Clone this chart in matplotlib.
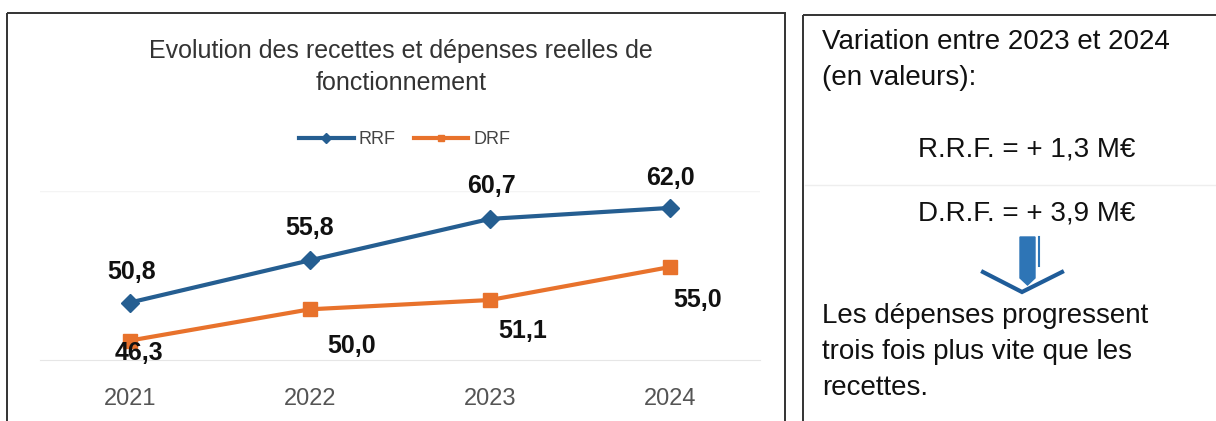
import matplotlib
matplotlib.use("Agg")
import matplotlib.pyplot as plt
from matplotlib.patches import Polygon, Rectangle
from matplotlib.lines import Line2D

plt.rcParams['font.family'] = ['Liberation Sans', 'DejaVu Sans']

years = ["2021", "2022", "2023", "2024"]
rrf = [50.8, 55.8, 60.7, 62.0]
drf = [46.3, 50.0, 51.1, 55.0]
title = "Evolution des recettes et dépenses reelles de\nfonctionnement"
side_lines = ["Variation entre 2023 et 2024", "(en valeurs):"]
rrf_text = "R.R.F. = + 1,3 M€"
drf_text = "D.R.F. = + 3,9 M€"
conclusion = ["Les dépenses progressent", "trois fois plus vite que les", "recettes."]

BLUE = "#255E91"
ORANGE = "#E8722C"

W, H = 1216, 421
fig = plt.figure(figsize=(W / 100, H / 100), dpi=100)

# overlay in pixel coordinates for frames / side panel
ov = fig.add_axes([0, 0, 1, 1])
ov.set_xlim(0, W)
ov.set_ylim(H, 0)
ov.axis("off")
ov.add_patch(Rectangle((7, 13), 778, 420, fill=False, ec="#333333", lw=1.4))
ov.add_patch(Rectangle((803, 15), 430, 420, fill=False, ec="#333333", lw=1.4))

# chart axes
ax = fig.add_axes([40 / W, (H - 360) / H, 720 / W, 169 / H])
x = list(range(len(years)))
ax.plot(x, rrf, color=BLUE, lw=3, marker="D", ms=9, label="RRF", zorder=3)
ax.plot(x, drf, color=ORANGE, lw=3, marker="s", ms=10, label="DRF", zorder=3)
ax.set_xlim(-0.5, 3.5)
ax.set_ylim(44, 64)
ax.set_xticks(x)
ax.set_xticklabels(years, fontsize=17, color="#555555")
ax.tick_params(axis="x", length=0, pad=20)
ax.set_yticks([])
for s in ["top", "left", "right"]:
    ax.spines[s].set_visible(False)
ax.spines["bottom"].set_color("#E6E6E6")
ax.axhline(64, color="#F4F4F4", lw=1)
ax.patch.set_alpha(0)

rrf_off = [(2, 31), (0, 32), (2, 33), (0, 30)]
drf_off = [(9, -12), (42, -37), (33, -31), (28, -33)]
for i, v in enumerate(rrf):
    ax.annotate(f"{v:.1f}".replace(".", ","), (i, v), xytext=rrf_off[i],
                textcoords="offset pixels", ha="center", va="center",
                fontsize=18, fontweight="bold", color="#111111")
for i, v in enumerate(drf):
    ax.annotate(f"{v:.1f}".replace(".", ","), (i, v), xytext=drf_off[i],
                textcoords="offset pixels", ha="center", va="center",
                fontsize=18, fontweight="bold", color="#111111")

# title and legend
ov.text(401, 67, title, ha="center", va="center", fontsize=18,
        color="#333333", linespacing=1.4)
leg = fig.legend(handles=[
    Line2D([], [], color=BLUE, lw=3, marker="D", ms=5),
    Line2D([], [], color=ORANGE, lw=3, marker="s", ms=5)],
    labels=["RRF", "DRF"], loc="center", bbox_to_anchor=(405 / W, 1 - 140 / H),
    ncol=2, frameon=False, fontsize=13, handlelength=3, columnspacing=1.0,
    handletextpad=0.3, labelcolor="#444444")

# side panel
FS = 20
ov.text(822, 42, side_lines[0], ha="left", va="center", fontsize=FS, color="#111111")
ov.text(822, 78, side_lines[1], ha="left", va="center", fontsize=FS, color="#111111")
ov.text(918, 150, rrf_text, ha="left", va="center", fontsize=FS, color="#111111")
ov.plot([805, 1216], [185, 185], color="#EEEEEE", lw=1)
ov.text(918, 214, drf_text, ha="left", va="center", fontsize=FS, color="#111111")
# arrow
ov.add_patch(Polygon([(1020, 237), (1035, 237), (1035, 278), (1027.5, 285), (1020, 278)],
                     closed=True, color="#2E75B6"))
ov.plot([1039, 1039], [237, 266], color="#2E75B6", lw=1.5)
ov.plot([983, 1022, 1062], [272, 292, 272], color="#1F5C99", lw=3, solid_joinstyle="miter")
for k, line in enumerate(conclusion):
    ov.text(822, 316 + 36 * k, line, ha="left", va="center", fontsize=FS, color="#111111")

fig.savefig("out.png", dpi=100)
